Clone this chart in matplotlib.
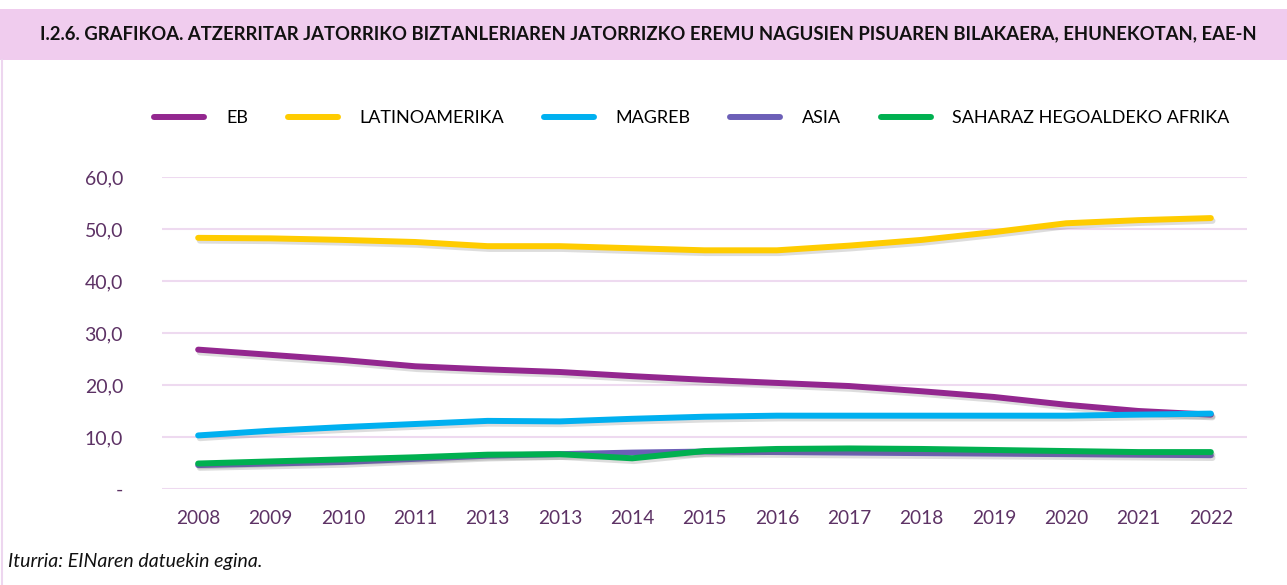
import matplotlib
matplotlib.use('Agg')
import matplotlib.pyplot as plt
import matplotlib.patheffects as pe
from matplotlib.patches import Rectangle
from matplotlib.lines import Line2D

years = ['2008', '2009', '2010', '2011', '2013', '2013', '2014', '2015',
         '2016', '2017', '2018', '2019', '2020', '2021', '2022']

eb = [26.8, 25.8, 24.8, 23.6, 23.0, 22.5, 21.7, 21.0, 20.4, 19.8, 18.8, 17.7, 16.2, 15.0, 14.3]
latinoamerika = [48.3, 48.2, 47.9, 47.5, 46.7, 46.7, 46.3, 45.9, 45.9, 46.8, 47.9, 49.4, 51.1, 51.7, 52.1]
magreb = [10.3, 11.2, 11.9, 12.5, 13.1, 13.0, 13.5, 13.9, 14.1, 14.1, 14.1, 14.1, 14.1, 14.3, 14.5]
asia = [4.6, 4.9, 5.2, 5.8, 6.4, 6.7, 7.0, 7.2, 7.1, 7.0, 6.9, 6.8, 6.7, 6.6, 6.5]
saharaz = [4.9, 5.3, 5.7, 6.1, 6.6, 6.7, 5.9, 7.3, 7.7, 7.8, 7.7, 7.5, 7.3, 7.1, 7.1]

series = [
    ('EB', eb, '#93278F'),
    ('LATINOAMERIKA', latinoamerika, '#FFCC00'),
    ('MAGREB', magreb, '#00B0F0'),
    ('ASIA', asia, '#6C5FB7'),
    ('SAHARAZ HEGOALDEKO AFRIKA', saharaz, '#00B050'),
]

title = 'I.2.6. GRAFIKOA. ATZERRITAR JATORRIKO BIZTANLERIAREN JATORRIZKO EREMU NAGUSIEN PISUAREN BILAKAERA, EHUNEKOTAN, EAE-N'
source = 'Iturria: EINaren datuekin egina.'

W, H = 1287, 585
fig = plt.figure(figsize=(W / 100, H / 100), dpi=100)
fig.patch.set_facecolor('white')

# title band
fig.add_artist(Rectangle((0, 1 - 60 / H), 1, 51 / H, transform=fig.transFigure,
                         facecolor='#F0CCEE', edgecolor='none'))
fig.text(648 / W, 1 - 34 / H, title, ha='center', va='center', fontsize=13.3,
         fontweight='bold', family='Lato', color='#111111')
# left frame line
fig.add_artist(Line2D([1.5 / W, 1.5 / W], [0, 1 - 60 / H], transform=fig.transFigure,
                      color='#EDD6EF', lw=1.5))

ax = fig.add_axes([162 / W, 1 - 489 / H, (1247 - 162) / W, (489 - 177) / H])
x = list(range(len(years)))
shadow = [pe.SimpleLineShadow(offset=(1.2, -2), shadow_color='#666666', alpha=0.22),
          pe.Normal()]
for name, vals, col in series:
    ax.plot(x, vals, color=col, lw=4.3, solid_capstyle='round', solid_joinstyle='round',
            label=name, path_effects=shadow)

ax.set_xlim(-0.5, len(years) - 0.5)
ax.set_ylim(0, 60)
ax.set_yticks([0, 10, 20, 30, 40, 50, 60])
ax.set_yticklabels(['-', '10,0', '20,0', '30,0', '40,0', '50,0', '60,0'])
ax.set_xticks(x)
ax.set_xticklabels(years)
ax.grid(axis='y', color='#EEDAF0', lw=1.5)
ax.set_axisbelow(True)
for s in ax.spines.values():
    s.set_visible(False)
ax.tick_params(length=0, labelcolor='#5D3265')
ax.tick_params(axis='y', pad=28, labelsize=14)
ax.tick_params(axis='x', pad=15, labelsize=13.8)
for lab in ax.get_xticklabels() + ax.get_yticklabels():
    lab.set_family('Lato')

handles, labels = ax.get_legend_handles_labels()
handles = [Line2D([], [], color=h.get_color(), lw=4.3, solid_capstyle='round') for h in handles]
fig.legend(handles, labels, loc='center', bbox_to_anchor=(692 / W, 1 - 118 / H), ncol=5,
           frameon=False, handlelength=2.77, handletextpad=1.2, columnspacing=2.2,
           prop={'family': 'Lato', 'size': 13})

fig.text(8 / W, 1 - 561 / H, source, ha='left', va='center', fontsize=14,
         style='italic', family='Lato', color='#111111')

fig.savefig('out.png', dpi=100)
